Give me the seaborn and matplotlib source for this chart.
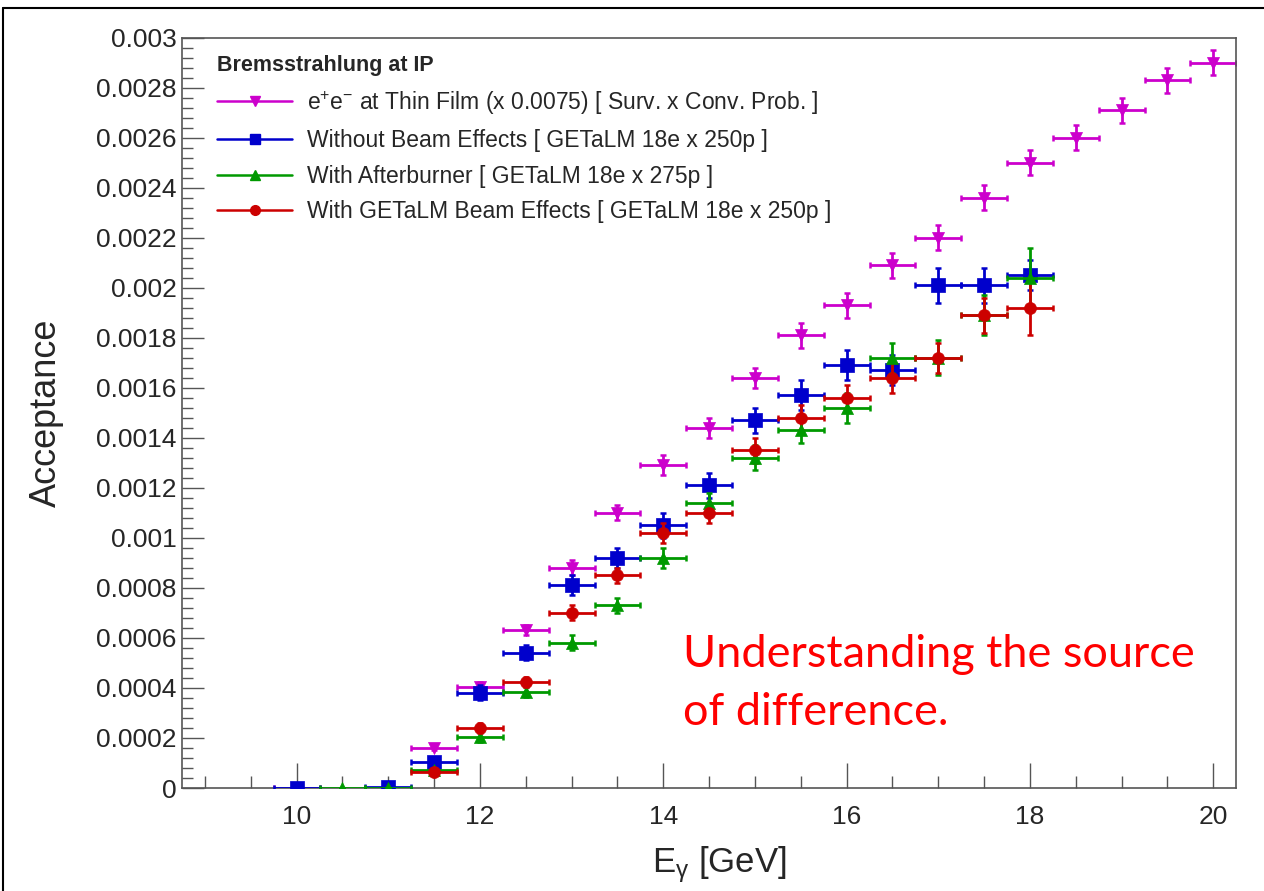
import numpy as np
import pandas as pd
import matplotlib
matplotlib.use("Agg")
import matplotlib.pyplot as plt
from matplotlib.lines import Line2D
from matplotlib.ticker import MultipleLocator, FuncFormatter
import seaborn as sns

# --- data ---
ee_x = [10, 11.5, 12, 12.5, 13, 13.5, 14, 14.5, 15, 15.5, 16, 16.5, 17, 17.5, 18, 18.5, 19, 19.5, 20]
ee_y = [0, 0.00016, 0.000405, 0.00063, 0.00088, 0.0011, 0.00129, 0.00144, 0.00164, 0.00181,
        0.00193, 0.00209, 0.0022, 0.00236, 0.0025, 0.0026, 0.00271, 0.00283, 0.0029]
ee_err = [0, 0.00001, 0.00002, 0.00002, 0.00003, 0.00003, 0.00004, 0.00004, 0.00004, 0.00005,
          0.00005, 0.00005, 0.00005, 0.00005, 0.00005, 0.00005, 0.00005, 0.00005, 0.00005]

nobeam_x = [10, 11, 11.5, 12, 12.5, 13, 13.5, 14, 14.5, 15, 15.5, 16, 16.5, 17, 17.5, 18]
nobeam_y = [0, 0.000005, 0.000104, 0.00038, 0.00054, 0.00081, 0.00092, 0.00105, 0.00121, 0.00147,
            0.00157, 0.00169, 0.00167, 0.00201, 0.00201, 0.00205]
nobeam_err = [0, 0.00001, 0.00002, 0.00003, 0.00003, 0.00004, 0.00004, 0.00005, 0.00005, 0.00005,
              0.00006, 0.00006, 0.00006, 0.00007, 0.00007, 0.00006]

after_x = [10.5, 11, 11.5, 12, 12.5, 13, 13.5, 14, 14.5, 15, 15.5, 16, 16.5, 17, 17.5, 18]
after_y = [0, 0, 0.00007, 0.000205, 0.000385, 0.00058, 0.00073, 0.00092, 0.00114, 0.00132,
           0.00143, 0.00152, 0.00172, 0.00172, 0.00189, 0.00204]
after_err = [0, 0, 0.00001, 0.00002, 0.00002, 0.00003, 0.00003, 0.00004, 0.00004, 0.00005,
             0.00005, 0.00006, 0.00006, 0.00007, 0.00008, 0.00012]

getalm_x = [11.5, 12, 12.5, 13, 13.5, 14, 14.5, 15, 15.5, 16, 16.5, 17, 17.5, 18]
getalm_y = [0.000064, 0.00024, 0.000425, 0.0007, 0.00085, 0.00102, 0.0011, 0.00135, 0.00148,
            0.00156, 0.00164, 0.00172, 0.00189, 0.00192]
getalm_err = [0.00001, 0.00002, 0.00002, 0.00003, 0.00003, 0.00004, 0.00004, 0.00005, 0.00005,
              0.00005, 0.00006, 0.00006, 0.00007, 0.00011]

bin_half = 0.25

labels = [
    r"e$^{+}$e$^{-}$ at Thin Film (x 0.0075) [ Surv. x Conv. Prob. ]",
    "Without Beam Effects [ GETaLM 18e x 250p ]",
    "With Afterburner [ GETaLM 18e x 275p ]",
    "With GETaLM Beam Effects [ GETaLM 18e x 250p ]",
]
legend_title = "Bremsstrahlung at IP"
note_lines = ["Understanding the source", "of difference."]

colors = ["#cc00cc", "#0000cc", "#009900", "#cc0000"]
markers = ["v", "s", "^", "o"]
sizes = [75, 90, 75, 75]

frames = []
for lab, xs, ys, es in [(labels[0], ee_x, ee_y, ee_err),
                        (labels[1], nobeam_x, nobeam_y, nobeam_err),
                        (labels[2], after_x, after_y, after_err),
                        (labels[3], getalm_x, getalm_y, getalm_err)]:
    frames.append(pd.DataFrame({"series": lab, "E": xs, "acc": ys, "err": es}))
df = pd.concat(frames, ignore_index=True)

# --- style ---
sns.set_style("white")
root_font = "Liberation Sans"
plt.rcParams["font.family"] = [root_font, "DejaVu Sans"]
plt.rcParams["mathtext.fontset"] = "custom"
plt.rcParams["mathtext.rm"] = root_font
plt.rcParams["mathtext.it"] = root_font

fig = plt.figure(figsize=(12.64, 8.91), dpi=100)
ax = fig.add_axes([0.144, 0.1156, 0.834, 0.8423])

# draw order: magenta, blue, red, green (green ends up on top)
for idx in [0, 1, 3, 2]:
    sub = df[df.series == labels[idx]]
    ax.errorbar(sub.E, sub.acc, xerr=bin_half, yerr=sub.err, fmt="none",
                ecolor=colors[idx], elinewidth=2.0, capsize=2.5, capthick=1.8, zorder=2 + idx)
    sns.scatterplot(data=sub, x="E", y="acc", ax=ax, color=colors[idx], marker=markers[idx],
                    s=sizes[idx], edgecolor=colors[idx], linewidth=0.5, legend=False, zorder=3 + idx)

ax.set_xlim(8.75, 20.25)
ax.set_ylim(0, 0.003)
ax.xaxis.set_major_locator(MultipleLocator(2))
ax.xaxis.set_minor_locator(MultipleLocator(0.5))
ax.yaxis.set_major_locator(MultipleLocator(0.0002))
ax.yaxis.set_minor_locator(MultipleLocator(0.00004))
ax.yaxis.set_major_formatter(FuncFormatter(lambda v, p: "%g" % round(v, 6)))
ax.tick_params(which="both", direction="in", color="#555555", width=1.0,
               bottom=True, left=True, top=False, right=False)
ax.tick_params(axis="x", which="major", length=18, labelsize=19, pad=12)
ax.tick_params(axis="x", which="minor", length=9)
ax.tick_params(axis="y", which="major", length=16, labelsize=19, pad=4)
ax.tick_params(axis="y", which="minor", length=8)
for sp in ax.spines.values():
    sp.set_color("#555555")
    sp.set_linewidth(1.2)

ax.set_xlabel(r"E$_{\mathrm{\gamma}}$ [GeV]", fontsize=25, labelpad=10)
ax.xaxis.set_label_coords(0.51, -0.075)
ax.set_ylabel("Acceptance", fontsize=26, labelpad=23)

handles = [Line2D([], [], color=c, marker=m, markersize=7, linewidth=1.8)
           for c, m in zip(colors, markers)]
leg = ax.legend(handles, labels, title=legend_title, loc="upper left",
                bbox_to_anchor=(0.02, 0.995), frameon=False, fontsize=16.5,
                title_fontproperties={"weight": "bold", "size": 15.5},
                handlelength=3.3, handletextpad=0.65, labelspacing=0.55,
                alignment="left", borderaxespad=0.2)

fig.text(0.540, 0.2514, note_lines[0], color="#ff0000", fontsize=32.5,
         family=["Lato", "DejaVu Sans"], va="baseline")
fig.text(0.540, 0.1863, note_lines[1], color="#ff0000", fontsize=32.5,
         family=["Lato", "DejaVu Sans"], va="baseline")

# slide frame around the screenshot
fig.add_artist(Line2D([0.0024, 0.0024], [0, 0.991], color="black", linewidth=1.5))
fig.add_artist(Line2D([0.0024, 1], [0.991, 0.991], color="black", linewidth=1.5))

fig.savefig("out.png", dpi=100)
